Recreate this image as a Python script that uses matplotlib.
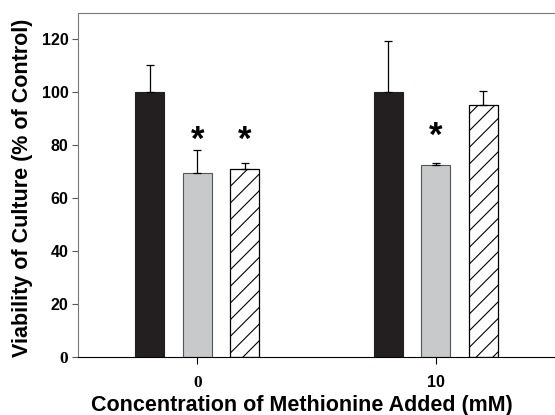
import matplotlib
matplotlib.use("Agg")
import matplotlib.pyplot as plt
import numpy as np

plt.rcParams['font.family'] = ['Liberation Sans', 'DejaVu Sans']
plt.rcParams['hatch.linewidth'] = 0.8

groups = ["0", "10"]
control = [100.0, 100.0]
control_err = [10.3, 19.4]
treat_a = [69.4, 72.7]
treat_a_err = [8.7, 0.5]
treat_b = [70.9, 95.1]
treat_b_err = [2.6, 5.3]
# asterisks: (series index, group index, height of star top)
signif = [(1, 0, 88.0), (2, 0, 88.0), (1, 1, 89.5)]

W, H = 555, 415
fig = plt.figure(figsize=(W / 100, H / 100), dpi=100)
ax = fig.add_axes([78 / W, (H - 357) / H, 1 - 78 / W, (357 - 13) / H])

x = np.arange(len(groups))
off = 0.2
width = 0.122
err_kw = dict(ecolor='black', elinewidth=0.9, capsize=3.2, capthick=0.9)

ax.bar(x - off, control, width, color='#231f20', edgecolor='#231f20', linewidth=0.8,
       yerr=[np.zeros(2), control_err], error_kw=err_kw, zorder=2)
ax.bar(x, treat_a, width, color='#c8c9cb', edgecolor='#555555', linewidth=0.8,
       yerr=[np.zeros(2), treat_a_err], error_kw=err_kw, zorder=2)
ax.bar(x + off, treat_b, width, color='white', edgecolor='black', linewidth=0.9,
       hatch='//', yerr=[np.zeros(2), treat_b_err], error_kw=err_kw, zorder=2)

for s, g, top in signif:
    xpos = x[g] + (s - 1) * off
    ax.text(xpos, top, '*', ha='center', va='top', fontsize=25, fontweight='bold')

ax.set_xlim(-0.5, 1.5)
ax.set_ylim(0, 130)
ax.set_yticks([0, 20, 40, 60, 80, 100, 120])
ax.set_xticks(x)
ax.set_xticklabels(groups)

for sp in ['left', 'top']:
    ax.spines[sp].set_color('#777777')
ax.spines['right'].set_visible(False)
ax.spines['bottom'].set_color('black')

ax.tick_params(axis='y', length=4, width=0.8, color='#555555', labelsize=11.5, pad=3)
ax.tick_params(axis='x', length=5, width=0.8, color='black', labelsize=11.5, pad=8)
for lab in ax.get_yticklabels():
    lab.set_fontweight('bold')
    if lab.get_text() == '0':
        lab.set_family('Liberation Serif')
        lab.set_fontsize(12.5)
for lab in ax.get_xticklabels():
    lab.set_fontweight('bold')
    if lab.get_text() == '0':
        lab.set_family('Liberation Serif')
        lab.set_fontsize(12.5)

ax.set_ylabel("Viability of Culture (% of Control)", fontsize=15.5, fontweight='bold')
ax.set_xlabel("Concentration of Methionine Added (mM)", fontsize=15.5, fontweight='bold')
ax.yaxis.set_label_coords((33 - 78) / (W - 78), 0.493)
ax.xaxis.set_label_coords((301.5 - 78) / (W - 78), (357 - 395) / 344)

fig.savefig("out.png", dpi=100)
